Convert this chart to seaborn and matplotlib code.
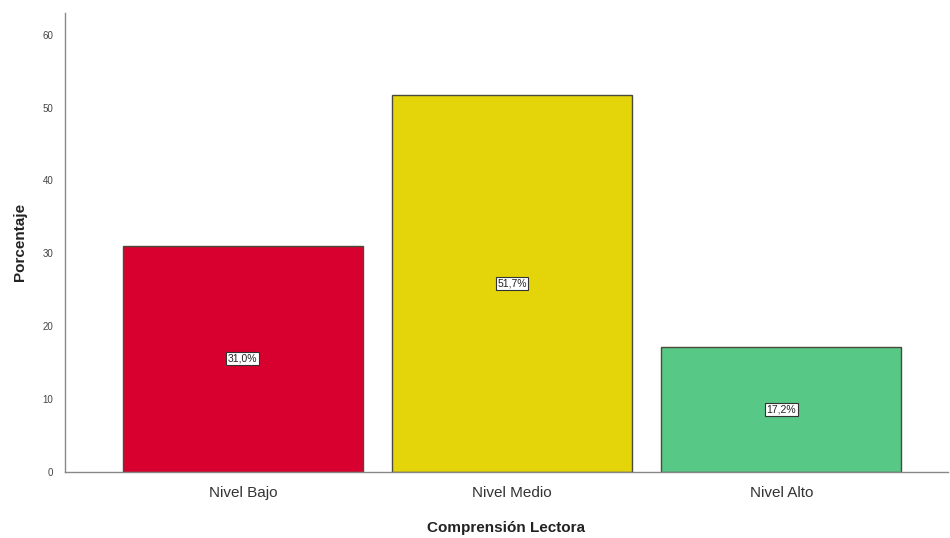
import numpy as np
import pandas as pd
import matplotlib.pyplot as plt
import seaborn as sns

categorias = ["Nivel Bajo", "Nivel Medio", "Nivel Alto"]
porcentajes = [31.0, 51.7, 17.2]
etiquetas = ["31,0%", "51,7%", "17,2%"]
colores = ["#d8002e", "#e4d50a", "#58c887"]
yticks = [0, 10, 20, 30, 40, 50, 60]

df = pd.DataFrame({"Comprensión Lectora": categorias, "Porcentaje": porcentajes})

sns.set_theme(style="white")
plt.rcParams["font.family"] = ["Liberation Sans", "DejaVu Sans"]

fig = plt.figure(figsize=(9.5, 5.38), dpi=100)
ax = fig.add_axes([0.068, 0.123, 0.93, 0.853])

sns.barplot(data=df, x="Comprensión Lectora", y="Porcentaje", hue="Comprensión Lectora",
            palette=colores, legend=False, width=0.892, edgecolor="#4a4a3a",
            linewidth=1.0, saturation=1, ax=ax)

# etiquetas de valor en el centro de cada barra
for i, (v, lab) in enumerate(zip(porcentajes, etiquetas)):
    ax.text(i, v / 2, lab, ha="center", va="center", fontsize=7.5, color="#222222",
            bbox=dict(boxstyle="square,pad=0.15", facecolor="white", edgecolor="#333333", linewidth=0.8))

ax.set_xlim(-0.662, 2.62)
ax.set_ylim(0, 63)
ax.set_yticks(yticks)
ax.set_yticklabels([str(t) for t in yticks], fontsize=7, color="#444444")
ax.tick_params(axis="x", labelsize=11, colors="#333333", length=0, pad=10)
ax.tick_params(axis="y", length=0, pad=8)

ax.set_xlabel("Comprensión Lectora", fontsize=11, fontweight="bold", color="#222222", labelpad=15)
ax.set_ylabel("Porcentaje", fontsize=11, fontweight="bold", color="#222222", labelpad=11)

sns.despine(ax=ax)
for s in ["left", "bottom"]:
    ax.spines[s].set_color("#888888")
    ax.spines[s].set_linewidth(1.0)

fig.savefig("out.png", dpi=100, facecolor="white")
